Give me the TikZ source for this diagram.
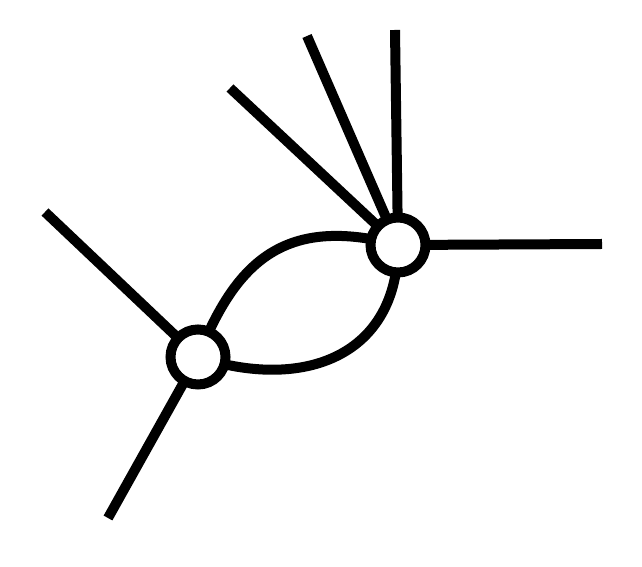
\documentclass[tikz,border=0pt]{standalone}
\begin{document}
\begin{tikzpicture}[x=1pt,y=1pt,
  edge/.style={line width=10pt},
  vert/.style={circle,draw,line width=10pt,fill=white,minimum size=55pt,inner sep=0pt}]
\useasboundingbox (0,0) rectangle (642,567);
\coordinate (L) at (198,210);
\coordinate (R) at (398,322);
\coordinate (a1) at (45,355);
\coordinate (a2) at (108,49);
\coordinate (b1) at (230,479);
\coordinate (b2) at (307,531);
\coordinate (b3) at (395,537);
\coordinate (b4) at (602,323);
\draw[edge] (L) -- (a1);
\draw[edge] (L) -- (a2);
\draw[edge] (R) -- (b1);
\draw[edge] (R) -- (b2);
\draw[edge] (R) -- (b3);
\draw[edge] (R) -- (b4);
\draw[edge] (L) .. controls (236,306) and (285,352) .. (R);
\draw[edge] (L) .. controls (305,175) and (398,212) .. (R);
\node[vert] (l) at (L) {};
\node[vert] (r) at (R) {};
\end{tikzpicture}
\end{document}
